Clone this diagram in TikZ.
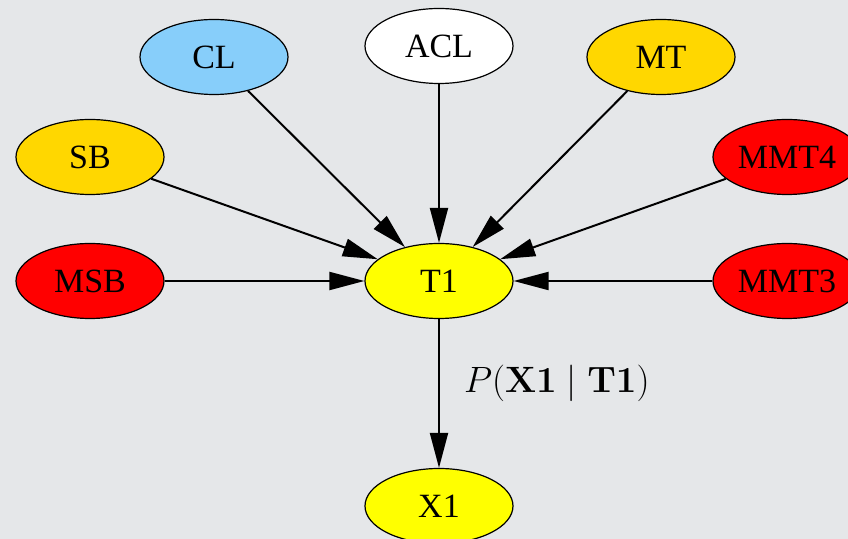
\documentclass[tikz,border=0pt]{standalone}
\usepackage[no-math]{fontspec}
\setmainfont{Liberation Serif}
\usepackage{xcolor}
\definecolor{BNPaper}{HTML}{E5E7E9}
\definecolor{BNSky}{HTML}{87CEFA}
\definecolor{BNGold}{HTML}{FFD700}
\definecolor{BNRed}{HTML}{FF0000}
\definecolor{BNYellow}{HTML}{FFFF00}
\usepackage{amsmath}
\usepackage{graphicx}
\usetikzlibrary{arrows.meta,shapes.geometric}

\begin{document}
\begin{tikzpicture}[x=0.5pt,y=-0.5pt,
    bnnode/.style={ellipse,draw=black,line width=0.6pt,minimum width=74pt,minimum height=37.5pt,inner sep=0pt,font=\fontsize{17pt}{20pt}\selectfont},
    bnedge/.style={line width=1pt,-{Triangle[length=17.5pt,width=9pt]}}]
  \useasboundingbox (0,0) rectangle (848,539);
  \fill[BNPaper] (0,0) rectangle (848,539);
  % parents of T1
  \foreach \name/\x/\y/\col in {CL/214/57/BNSky,ACL/439/46/white,MT/661/57/BNGold,SB/90/157/BNGold,MMT4/787/157/BNRed,MSB/90/281/BNRed,MMT3/787/281/BNRed}{
    \node[bnnode,fill=\col] (\name) at (\x,\y) {\name};
  }
  \node[bnnode,fill=BNYellow] (T1) at (439,281) {T1};
  \node[bnnode,fill=BNYellow] (X1) at (439,506) {X1};
  \foreach \name in {CL,ACL,MT,SB,MMT4,MSB,MMT3}{\draw[bnedge] (\name) -- (T1);}
  \draw[bnedge] (T1) -- node[pos=0.43,anchor=west,inner sep=0pt,xshift=12pt,font=\fontsize{17.28pt}{21pt}\selectfont] (lbl) {\scalebox{1.06}{$P(\mathbf{X1}\mid\mathbf{T1})$}} (X1);
\end{tikzpicture}
\end{document}
